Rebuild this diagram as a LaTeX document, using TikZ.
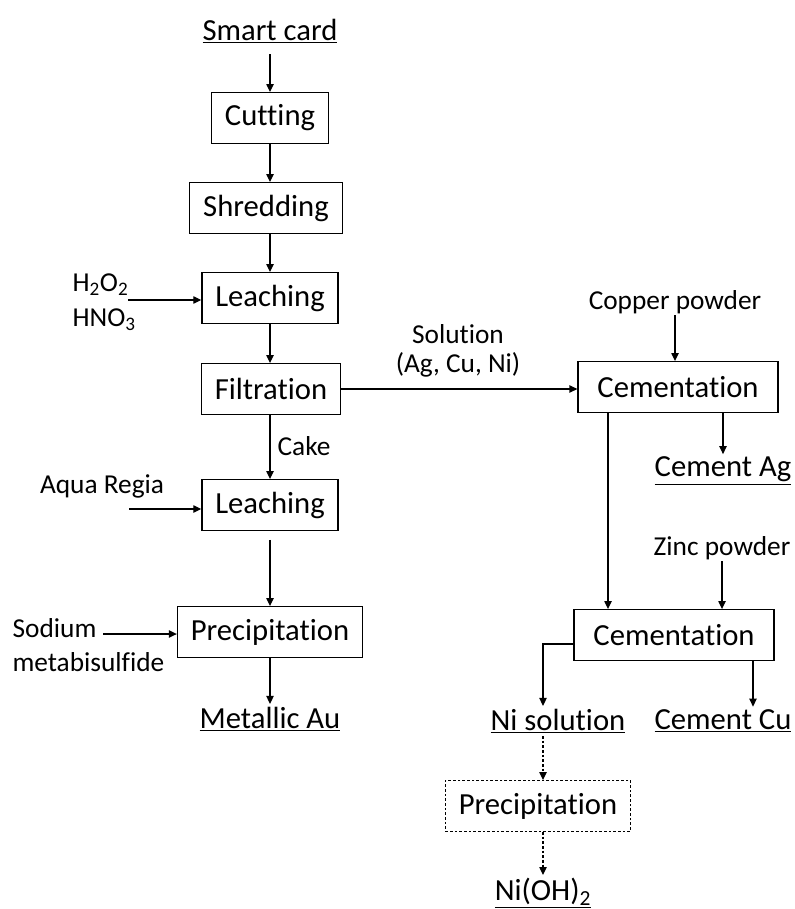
\documentclass[tikz,border=0pt]{standalone}
\usepackage{fontspec}
\setmainfont{Carlito}[Ligatures={NoCommon}]
\usetikzlibrary{arrows.meta,calc}

\begin{document}
\begin{tikzpicture}[x=0.75pt,y=-0.75pt,
    proc/.style={draw, line width=0.9pt, minimum height=38pt, inner xsep=10pt, font=\fontsize{23}{26}\selectfont},
    procw/.style={proc, minimum width=150pt},
    lbl/.style={inner sep=1pt, font=\fontsize{20.5}{26}\selectfont, align=center},
    prod/.style={inner sep=2pt, font=\fontsize{23}{26}\selectfont},
    arr/.style={-{Triangle[length=6pt,width=5.5pt]}, line width=0.9pt},
    dsh/.style={dash pattern=on 2pt off 1.5pt}]
    \useasboundingbox (0,0) rectangle (794,909);

    % BRANCA ESQUERRA (or)
    \node[prod] (card) at (270,31) {\underline{Smart card}};
    \node[proc] (cut) at (270,118) {Cutting};
    \node[proc] (shred) at (266,208) {Shredding};
    \node[proc] (leach1) at (270,298) {Leaching};
    \node[proc] (filt) at (271,389) {Filtration};
    \node[proc] (leach2) at (270,505) {Leaching};
    \node[proc] (prec1) at (270,632) {Precipitation};
    \node[prod] (au) at (270,719) {\underline{Metallic Au}};

    % REACTIUS
    \node[lbl, align=left, anchor=west] (acid) at (71,302) {H\textsubscript{2}O\textsubscript{2}\\HNO\textsubscript{3}};
    \coordinate (acidin) at (128,300);
    \node[lbl] (aqua) at (102,486) {Aqua Regia};
    \coordinate (aquain) at (129,509);
    \node[lbl, align=left, anchor=west] (sodium) at (11,645) {Sodium\\metabisulfide};
    \coordinate (sodin) at (103,634);
    \node[lbl] (cake) at (304,446) {Cake};
    \node[lbl] (sol) at (458,351) {Solution\\[-4pt](Ag, Cu, Ni)};

    % BRANCA DRETA (plata, coure, níquel)
    \node[procw] (cem1) at (678,387) {Cementation};
    \node[lbl] (cupow) at (675,302) {Copper powder};
    \node[prod] (agc) at (723,471) {\underline{Cement Ag}};
    \node[lbl] (znpow) at (722,548) {Zinc powder};
    \node[procw] (cem2) at (674,635) {Cementation};
    \node[prod] (nisol) at (558,721) {\underline{Ni solution}};
    \node[prod] (cucem) at (723,721) {\underline{Cement Cu}};
    \node[proc, dsh] (prec2) at (538,806) {Precipitation};
    \node[prod] (nioh) at (543,893) {\underline{Ni(OH)\textsubscript{2}}};

    % punts de sortida desplaçats
    \coordinate (cem1out) at ($(cem1.south)+(-70,0)$);
    \coordinate (cem2ni) at ($(cem2.west)+(0,9)$);
    \coordinate (cem2cu) at ($(cem2.south)+(79,0)$);
    \coordinate (nisolout) at ($(nisol.south)+(-15,0)$);
    \coordinate (prec2out) at ($(prec2.south)+(5,0)$);

    % FLETXES
    \draw[arr] ($(card.south)+(0,8)$) -- (cut.north);
    \draw[arr] (cut.south) -- (cut.south |- shred.north);
    \draw[arr] (leach1.north |- shred.south) -- (leach1.north);
    \draw[arr] (leach1.south) -- (leach1.south |- filt.north);
    \draw[arr] (acidin) -- (acidin -| leach1.west);
    \draw[arr] (leach2.north |- filt.south) -- (leach2.north);
    \draw[arr] (aquain) -- (aquain -| leach2.west);
    \draw[arr] ($(leach2.south)+(0,9)$) -- (prec1.north);
    \draw[arr] (sodin) -- (sodin -| prec1.west);
    \draw[arr] (prec1.south) -- (prec1.south |- au.north);
    \draw[arr] (filt.east) -- (filt.east -| cem1.west);
    \draw[arr] (cupow.south) -- (cupow.south |- cem1.north);
    \draw[arr] (cem1.south -| agc.north) -- (agc.north);
    \draw[arr] (cem1out) -- (cem1out |- cem2.north);
    \draw[arr] (znpow.south) -- (znpow.south |- cem2.north);
    \draw[arr] (cem2ni) -| (nisolout |- nisol.north);
    \draw[arr] (cem2cu) -- (cem2cu |- cucem.north);
    \draw[arr, dsh] (nisolout) -- (nisolout |- prec2.north);
    \draw[arr, dsh] (prec2out) -- (prec2out |- nioh.north);
\end{tikzpicture}
\end{document}
